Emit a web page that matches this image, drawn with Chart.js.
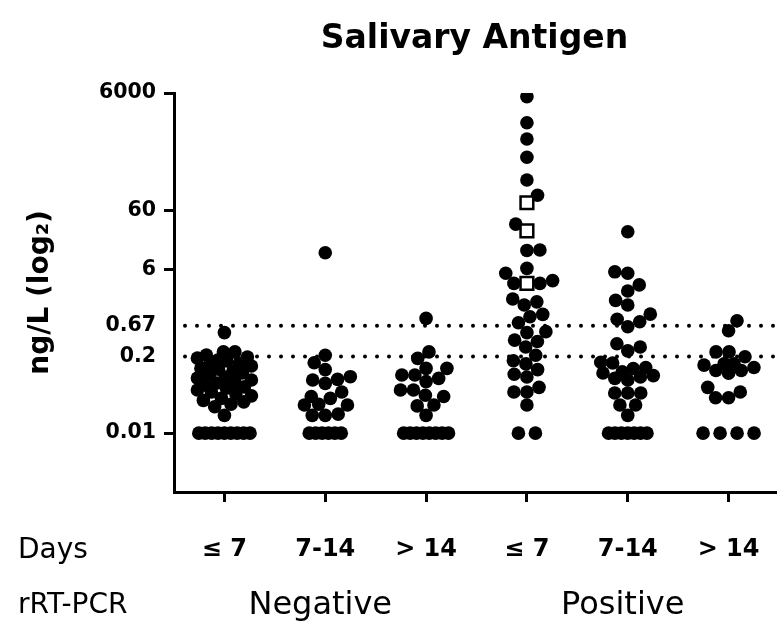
<!DOCTYPE html>
<html>
<head>
<meta charset="utf-8">
<script src="https://cdn.jsdelivr.net/npm/chart.js@4/dist/chart.umd.min.js"></script>
<style>
  html, body { margin: 0; padding: 0; background: #fff; overflow: hidden; }
  #wrap { position: relative; width: 779px; height: 632px; }
</style>
</head>
<body>
<div id="wrap"><canvas id="c" width="779" height="632"></canvas></div>
<script>
// Labels
const chartTitle = 'Salivary Antigen';
const yAxisTitle = 'ng/L (log₂)';
const dayLabels = ['≤ 7', '7-14', '> 14', '≤ 7', '7-14', '> 14'];
const rowTitles = ['Days', 'rRT-PCR'];
const pcrGroups = ['Negative', 'Positive'];
const pcrGroupCenters = [1, 4];          // column under which each PCR label sits
const yTickValues = [6000, 60, 6, 0.67, 0.2, 0.01];
const thresholds = [0.67, 0.2];          // dotted cut-off lines

// Salivary antigen, ng/L, one value per subject
const negLe7 = [0.51, 0.24, 0.24, 0.212, 0.196, 0.188, 0.174, 0.168, 0.155, 0.149,
  0.138, 0.127, 0.122, 0.113, 0.105, 0.097, 0.090, 0.086, 0.080, 0.074, 0.071,
  0.065, 0.061, 0.058, 0.054, 0.050, 0.046, 0.043, 0.039, 0.036, 0.034, 0.031,
  0.028, 0.020, 0.01, 0.01, 0.01, 0.01, 0.01, 0.01, 0.01, 0.01, 0.01];
const neg7to14 = [11.6, 0.21, 0.157, 0.12, 0.091, 0.082, 0.08, 0.07, 0.05, 0.042,
  0.039, 0.031, 0.03, 0.03, 0.021, 0.02, 0.02, 0.01, 0.01, 0.01, 0.01, 0.01, 0.01];
const negGt14 = [0.89, 0.24, 0.186, 0.126, 0.126, 0.097, 0.097, 0.085, 0.075, 0.054,
  0.054, 0.044, 0.042, 0.030, 0.029, 0.020, 0.01, 0.01, 0.01, 0.01, 0.01, 0.01, 0.01, 0.01];
const posLe7 = [5200, 1875, 990, 485, 200, 110, 35.6, 12.9, 12.7, 6.3, 5.2, 3.9, 3.5,
  3.5, 1.9, 1.7, 1.5, 1.04, 0.95, 0.75, 0.53, 0.51, 0.38, 0.36, 0.29, 0.21, 0.17, 0.15,
  0.12, 0.10, 0.09, 0.06, 0.05, 0.05, 0.03, 0.01, 0.01];
const posLe7Open = [82, 27.4, 3.5];
const pos7to14 = [26.4, 5.5, 5.2, 3.3, 2.6, 1.8, 1.5, 1.05, 0.86, 0.78, 0.64, 0.33,
  0.29, 0.25, 0.16, 0.155, 0.13, 0.125, 0.11, 0.105, 0.095, 0.09, 0.085, 0.08, 0.048,
  0.048, 0.048, 0.030, 0.030, 0.020, 0.01, 0.01, 0.01, 0.01, 0.01, 0.01, 0.01];
const posGt14 = [0.81, 0.55, 0.24, 0.24, 0.198, 0.15, 0.15, 0.143, 0.13, 0.116, 0.116,
  0.104, 0.06, 0.05, 0.04, 0.04, 0.01, 0.01, 0.01, 0.01];

const filledGroups = [negLe7, neg7to14, negGt14, posLe7, pos7to14, posGt14];
const openGroups = [[], [], [], posLe7Open, [], []];

const toPoints = (groups) => groups.flatMap((vals, g) => vals.map(v => ({ x: g, y: v, g })));

const FONT = '"DejaVu Sans", sans-serif';

// Column scatter: spread each column's dots sideways (beeswarm) in pixel space
function layoutColumns(chart) {
  const xs = chart.scales.x, ys = chart.scales.y;
  const unit = xs.getPixelForValue(1) - xs.getPixelForValue(0);
  const D = 13, HALF = 27, WIDE_GAP = 17, TIGHT_GAP = 6.4;
  const all = [];
  chart.data.datasets.forEach(ds => ds.data.forEach(p => all.push({ p, py: ys.getPixelForValue(p.y) })));
  for (let g = 0; g < filledGroups.length; g++) {
    const pts = all.filter(o => o.p.g === g);
    const floor = Math.min(...pts.map(o => o.p.y));
    let base = pts.filter(o => o.p.y === floor);
    let rest = pts.filter(o => o.p.y !== floor);
    if (base.length < 2) { rest = rest.concat(base); base = []; }
    rest.sort((a, b) => b.py - a.py);
    const placed = [];
    if (base.length) {
      const gap = (base.length - 1) * WIDE_GAP <= 2 * HALF ? WIDE_GAP : TIGHT_GAP;
      base.forEach((o, i) => { o.dx = (i - (base.length - 1) / 2) * gap; placed.push(o); });
    }
    let flip = 1;
    rest.forEach(o => {
      const near = placed.filter(q => Math.abs(q.py - o.py) < D);
      const cands = [0];
      near.forEach(q => {
        const h = Math.sqrt(D * D - (q.py - o.py) ** 2);
        cands.push(q.dx + h, q.dx - h);
      });
      const ok = cands.filter(c => Math.abs(c) <= HALF + 1e-6 &&
        near.every(q => Math.hypot(q.dx - c, q.py - o.py) >= D - 1e-6));
      let best = 0;
      if (ok.length) {
        ok.sort((a, b) => (Math.abs(a) - Math.abs(b)) || (a - b) * flip);
        best = ok[0];
      } else {
        let score = -1;
        for (let c = -HALF; c <= HALF; c += 0.5) {
          const s = Math.min(...near.map(q => Math.hypot(q.dx - c, q.py - o.py)));
          if (s > score) { score = s; best = c; }
        }
      }
      if (best !== 0) flip = Math.sign(best);
      o.dx = best;
      placed.push(o);
    });
    pts.forEach(o => { o.p.x = g + (o.dx || 0) / unit; });
  }
  chart.data.datasets.forEach(ds => { ds.data = ds.data.map(p => ({ ...p })); });
}

const decorations = {
  id: 'decorations',
  beforeDatasetsDraw(chart) {
    const { ctx, chartArea: ca, scales: { y } } = chart;
    ctx.save();
    ctx.strokeStyle = '#000';
    ctx.lineWidth = 4;
    ctx.lineCap = 'round';
    ctx.setLineDash([0, 12]);
    thresholds.forEach(v => {
      const py = y.getPixelForValue(v);
      ctx.beginPath();
      ctx.moveTo(ca.left + 11, py);
      ctx.lineTo(ca.right, py);
      ctx.stroke();
    });
    ctx.restore();
  },
  afterDraw(chart) {
    const { ctx, chartArea: ca, scales: { x } } = chart;
    ctx.save();
    ctx.fillStyle = '#000';
    ctx.font = 'bold 33px ' + FONT;
    ctx.textAlign = 'center';
    ctx.textBaseline = 'alphabetic';
    ctx.fillText(chartTitle, (ca.left + ca.right) / 2 - 2, 48);

    ctx.font = '28px ' + FONT;
    ctx.textAlign = 'left';
    ctx.textBaseline = 'middle';
    ctx.fillText(rowTitles[0], 18, 551);
    ctx.fillText(rowTitles[1], 18, 606);

    ctx.font = '32px ' + FONT;
    ctx.textAlign = 'center';
    pcrGroups.forEach((t, i) => ctx.fillText(t, x.getPixelForValue(pcrGroupCenters[i]) - 5, 606));
    ctx.restore();
  }
};

const chart = new Chart(document.getElementById('c'), {
  type: 'scatter',
  data: {
    datasets: [
      {
        data: toPoints(openGroups),
        pointStyle: 'rect',
        pointRadius: 9,
        backgroundColor: '#fff',
        borderColor: '#000',
        borderWidth: 2.5
      },
      {
        data: toPoints(filledGroups),
        pointStyle: 'circle',
        pointRadius: 6.8,
        backgroundColor: '#000',
        borderColor: '#000',
        borderWidth: 0
      }
    ]
  },
  options: {
    responsive: false,
    animation: false,
    devicePixelRatio: 1,
    events: [],
    layout: { autoPadding: false, padding: { top: 93, left: 0, right: 0, bottom: 0 } },
    plugins: { legend: { display: false }, tooltip: { enabled: false }, title: { display: false } },
    scales: {
      x: {
        type: 'linear',
        min: -0.5,
        max: 5.5,
        afterBuildTicks: s => { s.ticks = dayLabels.map((_, i) => ({ value: i })); },
        afterFit: s => { s.height = 140; s.paddingLeft = 0; s.paddingRight = 0; },
        border: { display: true, color: '#000', width: 3 },
        grid: { display: true, drawOnChartArea: false, drawTicks: true, tickLength: 10, tickWidth: 3, tickColor: '#000', lineWidth: 3, color: '#000' },
        ticks: {
          autoSkip: false,
          maxRotation: 0,
          padding: 33,
          color: '#000',
          font: { family: FONT, size: 24, weight: 'bold' },
          callback: (v) => dayLabels[v]
        }
      },
      y: {
        type: 'logarithmic',
        min: 0.001,
        max: 6000,
        afterBuildTicks: s => { s.ticks = yTickValues.map(v => ({ value: v })); },
        afterFit: s => { s.width = 174; },
        border: { display: true, color: '#000', width: 3 },
        grid: {
          display: true, drawOnChartArea: false, drawTicks: true, tickLength: 10, tickWidth: 3, lineWidth: 3, color: '#000',
          tickColor: (c) => (c.tick && thresholds.includes(c.tick.value)) ? 'rgba(0,0,0,0)' : '#000'
        },
        ticks: {
          autoSkip: false,
          padding: 8,
          color: '#000',
          font: { family: FONT, size: 20.5, weight: 'bold' },
          callback: (v) => String(v)
        },
        title: {
          display: true,
          text: yAxisTitle,
          color: '#000',
          font: { family: FONT, size: 28, weight: 'bold' },
          padding: { top: 24, bottom: 0 }
        }
      }
    }
  },
  plugins: [decorations]
});

layoutColumns(chart);
chart.update('none');
</script>
</body>
</html>
